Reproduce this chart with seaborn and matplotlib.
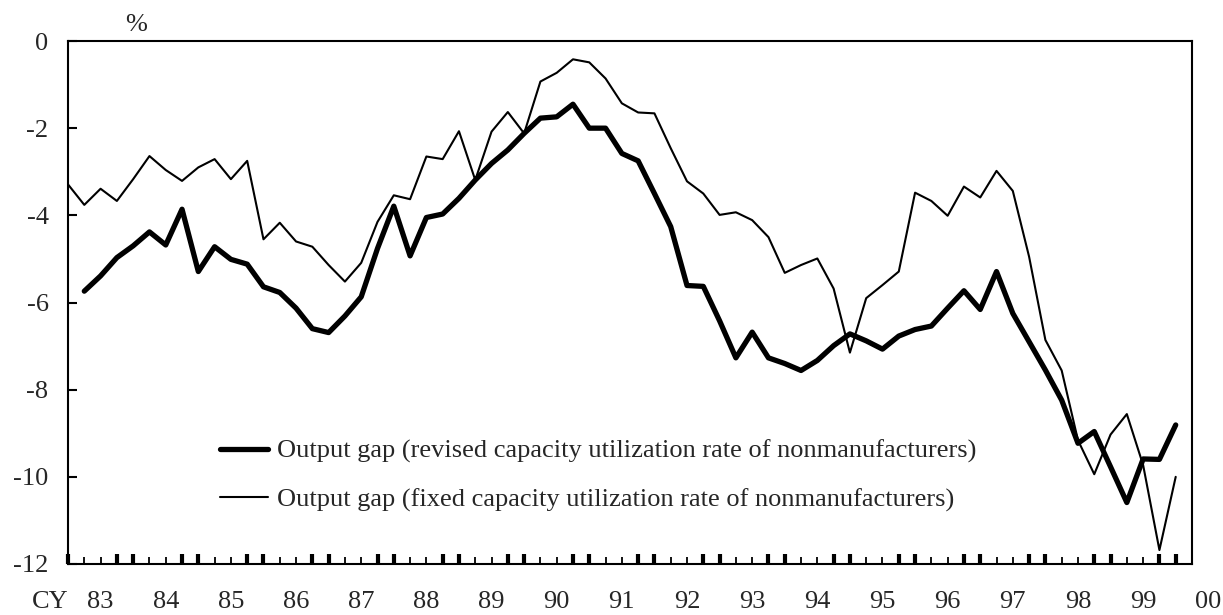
import numpy as np
import pandas as pd
import matplotlib
matplotlib.use('Agg')
import matplotlib.pyplot as plt
import seaborn as sns

# quarterly output gap, %, 1982Q3 - 1999Q3
quarters = pd.period_range('1982Q3', periods=69, freq='Q')

fixed_gap = [-3.29, -3.76, -3.39, -3.67, -3.17, -2.64, -2.96, -3.21, -2.90, -2.71,
             -3.17, -2.75, -4.55, -4.17, -4.60, -4.72, -5.14, -5.52, -5.09, -4.15,
             -3.54, -3.63, -2.65, -2.71, -2.07, -3.19, -2.08, -1.63, -2.12, -0.93,
             -0.73, -0.42, -0.49, -0.86, -1.43, -1.64, -1.66, -2.46, -3.22, -3.50,
             -3.99, -3.93, -4.11, -4.50, -5.32, -5.14, -4.99, -5.68, -7.15, -5.90,
             -5.60, -5.29, -3.48, -3.67, -4.01, -3.34, -3.59, -2.98, -3.44, -4.95,
             -6.86, -7.56, -9.16, -9.94, -9.03, -8.56, -9.73, -11.68, -10.00]

# revised series starts one quarter later (1982Q4)
revised_gap = [-5.74, -5.39, -4.97, -4.70, -4.38, -4.68, -3.86, -5.29, -4.72,
               -5.01, -5.12, -5.64, -5.77, -6.13, -6.60, -6.69, -6.31, -5.87, -4.76,
               -3.79, -4.93, -4.05, -3.97, -3.61, -3.19, -2.81, -2.50, -2.12, -1.77,
               -1.74, -1.45, -2.00, -2.00, -2.58, -2.75, -3.50, -4.26, -5.61, -5.63,
               -6.42, -7.27, -6.68, -7.27, -7.40, -7.56, -7.33, -6.99, -6.72, -6.88,
               -7.07, -6.77, -6.62, -6.54, -6.13, -5.73, -6.16, -5.29, -6.25, -6.90,
               -7.55, -8.24, -9.23, -8.96, -9.77, -10.59, -9.59, -9.60, -8.81]

year_labels = ['83', '84', '85', '86', '87', '88', '89', '90', '91', '92',
               '93', '94', '95', '96', '97', '98', '99', '00']

lab_revised = 'Output gap (revised capacity utilization rate of nonmanufacturers)'
lab_fixed = 'Output gap (fixed capacity utilization rate of nonmanufacturers)'

df = pd.DataFrame({
    'pos': np.arange(len(quarters)),
    'fixed': fixed_gap,
    'revised': [np.nan] + revised_gap,
})

sns.set_style('ticks')
plt.rcParams['font.family'] = ['Liberation Serif', 'DejaVu Serif']
FS = 19

fig = plt.figure(figsize=(12.23, 6.15), dpi=100)
ax = fig.add_axes([68 / 1223, 1 - 564 / 615, 1124 / 1223, 523 / 615])

sns.lineplot(data=df, x='pos', y='revised', color='black', lw=3.8,
             label=lab_revised, ax=ax)
sns.lineplot(data=df, x='pos', y='fixed', color='black', lw=1.5,
             label=lab_fixed, ax=ax)

ax.set_xlim(0, 69)
ax.set_ylim(-12, 0)
ax.set_xlabel('')
ax.set_ylabel('')

for s in ax.spines.values():
    s.set_linewidth(1.5)
    s.set_color('black')

ax.set_yticks(np.arange(-12, 1, 2))
ax.set_yticklabels([str(v) for v in range(-12, 1, 2)], fontsize=FS)
ax.tick_params(axis='y', direction='in', length=6.5, width=1.5, pad=14, color='black')

pos = df['pos'].values
bold = pos[(pos % 4 == 0) | (pos % 4 == 3)]
thin = pos[(pos % 4 == 1) | (pos % 4 == 2)]
ax.set_xticks(bold)
ax.set_xticks(thin, minor=True)
ax.set_xticklabels([])
ax.tick_params(axis='x', which='major', direction='in', length=7.5, width=3, color='black')
ax.tick_params(axis='x', which='minor', direction='in', length=5, width=1.3, color='black')

trans = ax.get_xaxis_transform()
for k, lab in enumerate(year_labels):
    ax.text(2 + 4 * k, -0.072, lab, transform=trans, ha='center', va='center',
            fontsize=FS, clip_on=False)
ax.text(-18 / 16.27, -0.072, 'CY', transform=trans, ha='center', va='center',
        fontsize=FS, clip_on=False)
ax.text(0.0605, 1.031, '%', transform=ax.transAxes, ha='center', va='center',
        fontsize=FS)

ax.legend(loc='center left', bbox_to_anchor=(0.135, 0.169), frameon=False,
          fontsize=FS, handlelength=1.82, handletextpad=0.35, labelspacing=0.93,
          borderpad=0, borderaxespad=0)

fig.savefig('out.png', dpi=100)
